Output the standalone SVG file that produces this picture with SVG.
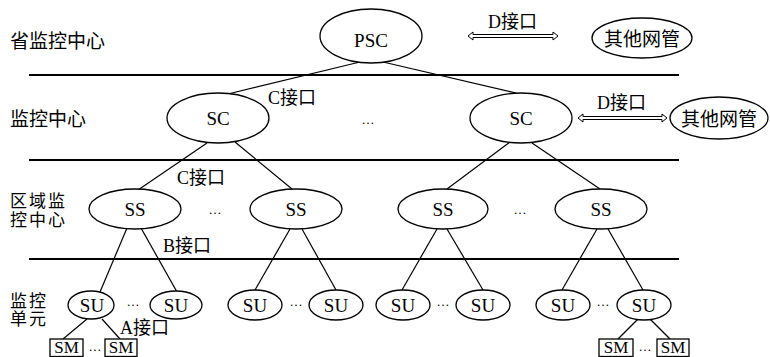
<svg xmlns="http://www.w3.org/2000/svg" width="770" height="357" viewBox="0 0 770 357">
<style>
.n{fill:#fff;stroke:#000;stroke-width:1.3}
.t{font-family:"Liberation Serif","Noto Sans CJK SC",serif;font-size:19px;fill:#000;text-anchor:middle}
.s{font-family:"Liberation Serif",serif;font-size:17px;fill:#000;text-anchor:middle}
.c{font-family:"Noto Sans CJK SC",sans-serif;font-size:19px;fill:#000}
.c2{font-family:"Noto Sans CJK SC",sans-serif;font-size:17px;letter-spacing:2px;fill:#000}
.l{font-family:"Liberation Serif","Noto Sans CJK SC",serif;font-size:18px;fill:#000}
.e{font-family:"Liberation Serif",serif;font-size:13px;fill:#000;text-anchor:middle}
.ln{stroke:#000;stroke-width:1.2;fill:none}
.hl{stroke:#000;stroke-width:2.2}
.ar{fill:#fff;stroke:#000;stroke-width:1}
</style>
<rect width="770" height="357" fill="#fff"/>
<g id="levels">
<line class="hl" x1="29" y1="75" x2="679" y2="75"/>
<line class="hl" x1="29" y1="160" x2="679" y2="160"/>
<line class="hl" x1="29" y1="259" x2="679" y2="259"/>
<text class="c" x="10" y="48">省监控中心</text>
<text class="c" x="10" y="126">监控中心</text>
<text class="c2"><tspan x="10" y="207">区域监</tspan><tspan x="10" y="226">控中心</tspan></text>
<text class="c2"><tspan x="10" y="307">监控</tspan><tspan x="10" y="325">单元</tspan></text>
</g>
<g id="connectors">
<line class="ln" x1="360" y1="62" x2="228" y2="94"/>
<line class="ln" x1="383" y1="62" x2="516" y2="93"/>
<line class="ln" x1="207" y1="143" x2="138" y2="190"/>
<line class="ln" x1="235" y1="142" x2="292" y2="189"/>
<line class="ln" x1="510" y1="142" x2="447" y2="189"/>
<line class="ln" x1="532" y1="143" x2="600" y2="189"/>
<line class="ln" x1="127" y1="228" x2="100" y2="292"/>
<line class="ln" x1="141" y1="228" x2="177" y2="292"/>
<line class="ln" x1="290" y1="229" x2="255" y2="290"/>
<line class="ln" x1="302" y1="229" x2="336" y2="290"/>
<line class="ln" x1="437" y1="229" x2="402" y2="290"/>
<line class="ln" x1="447" y1="229" x2="483" y2="290"/>
<line class="ln" x1="597" y1="229" x2="562" y2="290"/>
<line class="ln" x1="608" y1="229" x2="643" y2="290"/>
<line class="ln" x1="87" y1="319" x2="63" y2="339"/>
<line class="ln" x1="102" y1="319" x2="120" y2="339"/>
<line class="ln" x1="638" y1="319" x2="618" y2="339"/>
<line class="ln" x1="650" y1="319" x2="670" y2="339"/>
<path class="ar" d="M468,36 L473,32 L473,34.5 L553,34.5 L553,32 L558,36 L553,40 L553,37.5 L473,37.5 L473,40 Z"/>
<path class="ar" d="M578,118 L583,114 L583,116.5 L662,116.5 L662,114 L667,118 L662,122 L662,119.5 L583,119.5 L583,122 Z"/>
<text class="l" x="488" y="28">D接口</text>
<text class="l" x="597" y="109">D接口</text>
<text class="l" x="268" y="104">C接口</text>
<text class="l" x="177" y="184">C接口</text>
<text class="l" x="163" y="252">B接口</text>
<text class="l" x="120" y="334">A接口</text>
<text class="e" x="368" y="124">…</text>
<text class="e" x="215" y="214">…</text>
<text class="e" x="520" y="214">…</text>
<text class="e" x="133" y="306">…</text>
<text class="e" x="296" y="306">…</text>
<text class="e" x="443" y="306">…</text>
<text class="e" x="603" y="306">…</text>
<text class="e" x="95" y="351">…</text>
<text class="e" x="645" y="351">…</text>
</g>
<g id="PSC"><ellipse class="n" cx="371" cy="36" rx="51" ry="27"/><text class="t" x="371" y="47">PSC</text></g>
<g id="NMS1"><ellipse class="n" cx="642" cy="38" rx="50" ry="20"/><text class="t" x="642" y="46">其他网管</text></g>
<g id="SC1"><ellipse class="n" cx="218" cy="118" rx="51" ry="25"/><text class="t" x="218" y="125">SC</text></g>
<g id="SC2"><ellipse class="n" cx="521" cy="118" rx="51" ry="25"/><text class="t" x="521" y="125">SC</text></g>
<g id="NMS2"><ellipse class="n" cx="719" cy="118" rx="49" ry="21"/><text class="t" x="719" y="126">其他网管</text></g>
<g id="SS1"><ellipse class="n" cx="135" cy="209" rx="46" ry="20"/><text class="t" x="135" y="216">SS</text></g>
<g id="SS2"><ellipse class="n" cx="296" cy="209" rx="46" ry="20"/><text class="t" x="296" y="216">SS</text></g>
<g id="SS3"><ellipse class="n" cx="443" cy="209" rx="45" ry="20"/><text class="t" x="443" y="216">SS</text></g>
<g id="SS4"><ellipse class="n" cx="601" cy="209" rx="46" ry="20"/><text class="t" x="601" y="216">SS</text></g>
<g id="SU1"><ellipse class="n" cx="91" cy="305" rx="23" ry="14"/><text class="t" x="92" y="312">SU</text></g>
<g id="SU2"><ellipse class="n" cx="176" cy="305" rx="26" ry="14"/><text class="t" x="176" y="312">SU</text></g>
<g id="SU3"><ellipse class="n" cx="255" cy="305" rx="27" ry="15"/><text class="t" x="255" y="312">SU</text></g>
<g id="SU4"><ellipse class="n" cx="336" cy="305" rx="27" ry="15"/><text class="t" x="336" y="312">SU</text></g>
<g id="SU5"><ellipse class="n" cx="403" cy="305" rx="27" ry="15"/><text class="t" x="403" y="312">SU</text></g>
<g id="SU6"><ellipse class="n" cx="483" cy="305" rx="27" ry="15"/><text class="t" x="483" y="312">SU</text></g>
<g id="SU7"><ellipse class="n" cx="563" cy="305" rx="27" ry="15"/><text class="t" x="563" y="312">SU</text></g>
<g id="SU8"><ellipse class="n" cx="644" cy="305" rx="27" ry="15"/><text class="t" x="644" y="312">SU</text></g>
<g id="SM1"><rect class="n" x="50" y="339" width="33" height="17.5"/><text class="s" x="66.5" y="353">SM</text></g>
<g id="SM2"><rect class="n" x="105" y="339" width="32" height="17.5"/><text class="s" x="121" y="353">SM</text></g>
<g id="SM3"><rect class="n" x="599" y="339" width="34" height="17.5"/><text class="s" x="616" y="353">SM</text></g>
<g id="SM4"><rect class="n" x="657" y="339" width="32" height="17.5"/><text class="s" x="673" y="353">SM</text></g>
</svg>
